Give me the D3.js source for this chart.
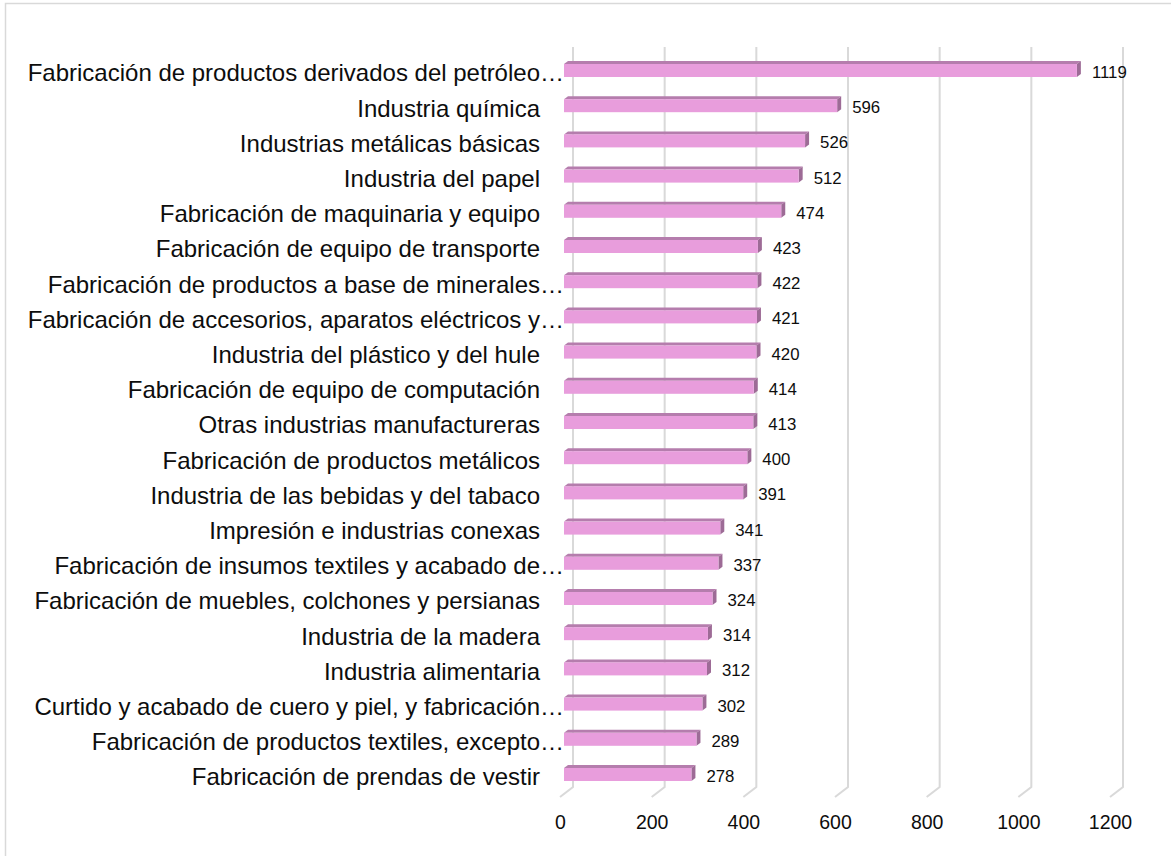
<!DOCTYPE html>
<html>
<head>
<meta charset="utf-8">
<script src="https://cdnjs.cloudflare.com/ajax/libs/d3/7.8.5/d3.min.js"></script>
<style>
  html, body { margin: 0; padding: 0; background: #fff; }
  svg { display: block; font-family: "Liberation Sans", Arial, sans-serif; }
</style>
</head>
<body>
<svg id="chart" width="1171" height="856"></svg>
<script>
// Sectors, top to bottom
const categories = [
  "Fabricación de productos derivados del petróleo…",
  "Industria química",
  "Industrias metálicas básicas",
  "Industria del papel",
  "Fabricación de maquinaria y equipo",
  "Fabricación de equipo de transporte",
  "Fabricación de productos a base de minerales…",
  "Fabricación de accesorios, aparatos eléctricos y…",
  "Industria del plástico y del hule",
  "Fabricación de equipo de computación",
  "Otras industrias manufactureras",
  "Fabricación de productos metálicos",
  "Industria de las bebidas y del tabaco",
  "Impresión e industrias conexas",
  "Fabricación de insumos textiles y acabado de…",
  "Fabricación de muebles, colchones y persianas",
  "Industria de la madera",
  "Industria alimentaria",
  "Curtido y acabado de cuero y piel, y fabricación…",
  "Fabricación de productos textiles, excepto…",
  "Fabricación de prendas de vestir"
];
const values = [1119, 596, 526, 512, 474, 423, 422, 421, 420, 414, 413, 400, 391, 341, 337, 324, 314, 312, 302, 289, 278];
const tickValues = [0, 200, 400, 600, 800, 1000, 1200];

const svg = d3.select("#chart");

// outer frame
svg.append("rect")
  .attr("x", 5.5).attr("y", 3.5)
  .attr("width", 1300).attr("height", 1000)
  .attr("fill", "none").attr("stroke", "#d9d9d9").attr("stroke-width", 1.5);

// front-plane value scale; the back wall sits one depth step up and to the right
const x = d3.scaleLinear().domain([0, 1200]).range([560, 1110]);
const depthX = 13, depthY = 10;
const floorY = 797, topY = 47;

const y = d3.scaleBand()
  .domain(categories)
  .range([52.9, 792.1])
  .paddingInner(0.631)
  .paddingOuter(0.3155);

// gridlines: vertical on back wall, then running forward across the floor
const grid = svg.append("g").attr("class", "grid");
grid.selectAll("path")
  .data(tickValues)
  .join("path")
  .attr("d", v => {
    const xb = x(v) + depthX;
    return `M${xb},${topY} L${xb},${floorY - depthY} L${x(v)},${floorY}`;
  })
  .attr("fill", "none")
  .attr("stroke", "#d9d9d9")
  .attr("stroke-width", 2);

// 3D bars
const barOffset = 4;   // bars stand a little behind the front plane
const bdx = 4, bdy = 3; // bar depth
const bars = svg.append("g").attr("class", "bars")
  .selectAll("g")
  .data(categories.map((c, i) => ({ c, v: values[i] })))
  .join("g");

bars.append("path") // top face
  .attr("d", d => {
    const x0 = x(0) + barOffset, x1 = x(d.v) + barOffset, yt = y(d.c);
    return `M${x0},${yt} L${x0 + bdx},${yt - bdy} L${x1 + bdx},${yt - bdy} L${x1},${yt} Z`;
  })
  .attr("fill", "#b57dad");

bars.append("path") // right side face
  .attr("d", d => {
    const x1 = x(d.v) + barOffset, yt = y(d.c), yb = yt + y.bandwidth();
    return `M${x1},${yt} L${x1 + bdx},${yt - bdy} L${x1 + bdx},${yb - bdy} L${x1},${yb} Z`;
  })
  .attr("fill", "#9d6b96");

bars.append("rect") // front face
  .attr("x", x(0) + barOffset)
  .attr("y", d => y(d.c))
  .attr("width", d => x(d.v) - x(0))
  .attr("height", y.bandwidth())
  .attr("fill", "#e89ddc");

// value labels
bars.append("text")
  .attr("x", d => x(d.v) + barOffset + bdx + 11)
  .attr("y", d => y(d.c) + y.bandwidth() / 2)
  .attr("dy", "0.45em")
  .attr("font-size", 16.8)
  .attr("fill", "#0d0d0d")
  .text(d => d.v);

// category labels: right-aligned, a trailing ellipsis hangs past the edge
const labelRight = 540;
const cats = svg.append("g").attr("class", "cats")
  .selectAll("g")
  .data(categories)
  .join("g")
  .attr("transform", d => `translate(0,${y(d) + y.bandwidth() / 2})`);

cats.append("text")
  .attr("x", labelRight)
  .attr("dy", "0.45em")
  .attr("text-anchor", "end")
  .attr("font-size", 24)
  .attr("fill", "#0d0d0d")
  .text(d => d.replace(/…$/, ""));

cats.filter(d => d.endsWith("…"))
  .append("text")
  .attr("x", labelRight)
  .attr("dy", "0.45em")
  .attr("font-size", 24)
  .attr("fill", "#0d0d0d")
  .text("…");

// value axis
const axis = svg.append("g")
  .attr("transform", `translate(0,${815})`)
  .call(d3.axisBottom(x).tickValues(tickValues).tickSize(0).tickPadding(0).tickFormat(d3.format("d")));
axis.select(".domain").remove();
axis.selectAll("text")
  .attr("font-size", 19.5)
  .attr("font-family", "\"Liberation Sans\", Arial, sans-serif")
  .attr("fill", "#0d0d0d");
</script>
</body>
</html>
